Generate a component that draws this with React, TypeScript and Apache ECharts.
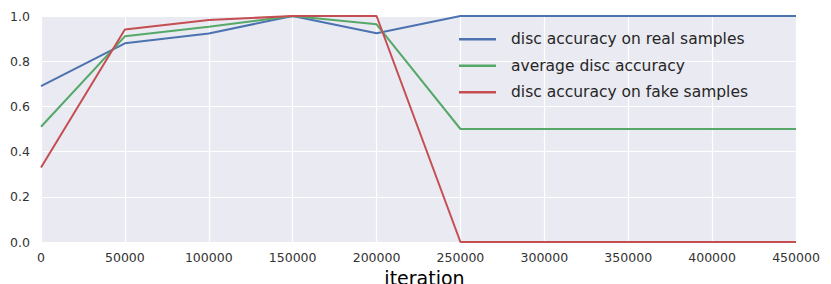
import React, { useEffect, useRef } from "react";
import * as echarts from "echarts";

const iterations = [0, 50000, 100000, 150000, 200000, 250000, 300000, 350000, 400000, 450000];
const realAcc = [0.69, 0.879, 0.923, 1.0, 0.924, 1.0, 1.0, 1.0, 1.0, 1.0];
const avgAcc = [0.51, 0.91, 0.952, 1.0, 0.963, 0.5, 0.5, 0.5, 0.5, 0.5];
const fakeAcc = [0.33, 0.94, 0.982, 1.0, 1.0, 0.0, 0.0, 0.0, 0.0, 0.0];
const seriesNames = [
  "disc accuracy on real samples",
  "average disc accuracy",
  "disc accuracy on fake samples",
];
const seriesColors = ["#4C72B0", "#55A868", "#C44E52"];

const FONT = "DejaVu Sans";

export default function App() {
  const ref = useRef<HTMLDivElement>(null);
  useEffect(() => {
    if (!ref.current) return;
    const chart = echarts.init(ref.current, undefined, { renderer: "svg" });
    const values = [realAcc, avgAcc, fakeAcc];
    chart.setOption({
      animation: false,
      backgroundColor: "#ffffff",
      textStyle: { fontFamily: FONT },
      grid: {
        left: 41,
        right: 35,
        top: 16,
        bottom: 42,
        show: true,
        backgroundColor: "#EAEAF2",
        borderWidth: 0,
        containLabel: false,
        outerBoundsMode: "none",
      },
      legend: {
        orient: "vertical",
        left: 459,
        top: 30,
        padding: 0,
        icon: "rect",
        itemWidth: 37,
        itemHeight: 2.5,
        itemGap: 8,
        textStyle: { fontFamily: FONT, fontSize: 15.5, color: "#262626", padding: [0, 0, 0, 10], lineHeight: 18.5 },
        data: seriesNames,
      },
      xAxis: {
        type: "value",
        min: 0,
        max: 450000,
        interval: 50000,
        name: "iteration",
        nameLocation: "middle",
        nameGap: 19,
        nameTextStyle: {
          fontFamily: FONT,
          fontSize: 19,
          color: "#000000",
          lineHeight: 19,
          padding: [0, 0, 0, 12],
        },
        axisLine: { show: false },
        axisTick: { show: false },
        axisLabel: {
          fontFamily: FONT,
          fontSize: 12.5,
          color: "#333333",
          margin: 9,
          formatter: (v: number) => String(v),
        },
        splitLine: { show: true, lineStyle: { color: "#ffffff", width: 1.2 } },
      },
      yAxis: {
        type: "value",
        min: 0,
        max: 1,
        interval: 0.2,
        axisLine: { show: false },
        axisTick: { show: false },
        axisLabel: {
          fontFamily: FONT,
          fontSize: 12.5,
          color: "#333333",
          margin: 11,
          formatter: (v: number) => v.toFixed(1),
        },
        splitLine: { show: true, lineStyle: { color: "#ffffff", width: 1.2 } },
      },
      series: seriesNames.map((name, i) => ({
        name,
        type: "line",
        data: iterations.map((x, j) => [x, values[i][j]]),
        showSymbol: false,
        symbol: "none",
        clip: false,
        color: seriesColors[i],
        lineStyle: { color: seriesColors[i], width: 2 },
      })),
    });
    return () => chart.dispose();
  }, []);
  return <div ref={ref} style={{ position: "fixed", left: 0, top: 0, width: 831, height: 284 }} />;
}
